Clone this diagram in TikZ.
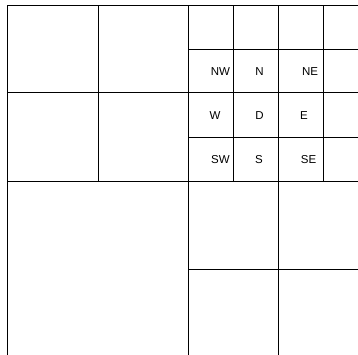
\documentclass[tikz,border=0pt]{standalone}
\usepackage{fontspec}
\setmainfont{Liberation Sans}
\usepackage{tikz}
\usetikzlibrary{positioning}

\begin{document}
\begin{tikzpicture}[
  x=1pt, y=-1pt,
  gridline/.style={draw=black, line width=1pt},
  dir/.style={font=\fontsize{11.5}{13}\selectfont, inner sep=0pt},
]
\useasboundingbox (0,0) rectangle (358,355);

% outer border and the quadrant splits
\draw[gridline] (358,6) -- (7.5,6) -- (7.5,355);
\draw[gridline] (7.5,93) -- (358,93);
\draw[gridline] (7.5,182) -- (358,182);
\draw[gridline] (98,6) -- (98,182);
\draw[gridline] (188,6) -- (188,355);
\draw[gridline] (278,6) -- (278,355);

% finer cells top right
\draw[gridline] (188,50) -- (358,50);
\draw[gridline] (188,138) -- (358,138);
\draw[gridline] (233,6) -- (233,182);
\draw[gridline] (323,6) -- (323,182);

% bottom right split
\draw[gridline] (188,269) -- (358,269);

% neighbour labels
\node[dir] (nw) at (220.5,71.5) {NW};
\node[dir] (n)  at (259.5,71.5) {N};
\node[dir] (ne) at (310,71.5)   {NE};
\node[dir] (w)  at (215,115.5)  {W};
\node[dir] (d)  at (259.5,115.5) {D};
\node[dir] (e)  at (304,115.5)  {E};
\node[dir] (sw) at (220.5,160)  {SW};
\node[dir] (s)  at (259,160)    {S};
\node[dir] (se) at (308.5,160)  {SE};
\end{tikzpicture}
\end{document}
